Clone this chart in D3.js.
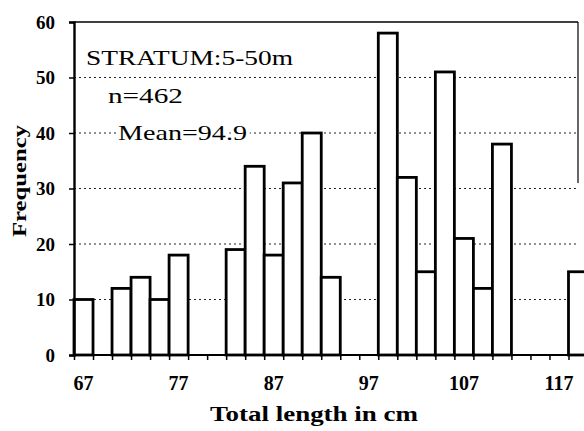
<!DOCTYPE html>
<html>
<head>
<meta charset="utf-8">
<script src="https://cdn.jsdelivr.net/npm/d3@7"></script>
<style>
  body { margin: 0; background: #fff; }
  svg { display: block; }
  text { font-family: "Liberation Serif", "Times New Roman", serif; }
</style>
</head>
<body>
<div id="chart"></div>
<script>
// bin start (cm), each bin 2 cm wide
var binStarts = [66, 70, 72, 74, 76, 82, 84, 86, 88, 90, 92, 98, 100, 102, 104, 106, 108, 110, 118];
var frequencies = [10, 12, 14, 10, 18, 19, 34, 18, 31, 40, 14, 58, 32, 15, 51, 21, 12, 38, 15];
var xTickLabels = [67, 77, 87, 97, 107, 117];
var yTicks = [0, 10, 20, 30, 40, 50, 60];
var gridValues = [10, 20, 30, 40, 50];
var binWidth = 2;

var width = 584, height = 431;

var svg = d3.select("#chart")
  .append("svg")
  .attr("width", width)
  .attr("height", height);

var x = d3.scaleLinear().domain([66, 119]).range([74, 578]);
var y = d3.scaleLinear().domain([0, 60]).range([355, 22]);

// dotted gridlines
svg.selectAll(".grid")
  .data(gridValues)
  .enter()
  .append("line")
  .attr("x1", x(66))
  .attr("x2", x(119))
  .attr("y1", d => y(d))
  .attr("y2", d => y(d))
  .style("stroke", "#222")
  .style("stroke-width", 1)
  .style("stroke-dasharray", "2,3");

// top frame + partial right frame
svg.append("line")
  .attr("x1", x(66)).attr("x2", x(119))
  .attr("y1", y(60)).attr("y2", y(60))
  .style("stroke", "#000").style("stroke-width", 1.6);
svg.append("line")
  .attr("x1", x(119)).attr("x2", x(119))
  .attr("y1", y(60)).attr("y2", y(31))
  .style("stroke", "#000").style("stroke-width", 1.2);

// annotation text (white halo interrupts the gridlines)
var notes = [
  { t: "STRATUM:5-50m", x: 86, y: 65, len: 207 },
  { t: "n=462", x: 108, y: 103, len: 75 },
  { t: "Mean=94.9", x: 118, y: 140, len: 129 }
];
svg.selectAll(".note")
  .data(notes)
  .enter()
  .append("text")
  .attr("x", d => d.x)
  .attr("y", d => d.y)
  .attr("textLength", d => d.len)
  .attr("lengthAdjust", "spacingAndGlyphs")
  .style("font-size", "22px")
  .style("fill", "#000")
  .style("stroke", "#fff")
  .style("stroke-width", 6)
  .style("paint-order", "stroke")
  .text(d => d.t);

// bars
var bars = binStarts.map((b, i) => ({ start: b, value: frequencies[i] }));
svg.selectAll(".bar")
  .data(bars)
  .enter()
  .append("rect")
  .attr("x", d => x(d.start))
  .attr("y", d => y(d.value))
  .attr("width", d => x(d.start + binWidth) - x(d.start))
  .attr("height", d => y(0) - y(d.value))
  .style("fill", "#fff")
  .style("stroke", "#000")
  .style("stroke-width", 2.8);

// x axis
var xAxis = svg.append("g")
  .attr("transform", "translate(0," + y(0) + ")")
  .call(d3.axisBottom(x).tickValues(d3.range(66, 120, 2)).tickSize(5).tickFormat(""));
xAxis.select(".domain").attr("d", "M" + x(66) + ",0H" + width).style("stroke-width", 2);
xAxis.selectAll(".tick line").style("stroke-width", 1.5);

svg.selectAll(".xlab")
  .data(xTickLabels)
  .enter()
  .append("text")
  .attr("x", d => x(d))
  .attr("y", 390)
  .attr("text-anchor", "middle")
  .style("font-size", "20px")
  .style("font-weight", "bold")
  .text(d => d);

// y axis
var yAxis = svg.append("g")
  .attr("transform", "translate(" + x(66) + ",0)")
  .call(d3.axisLeft(y).tickValues(yTicks).tickSize(5).tickPadding(14));
yAxis.select(".domain").style("stroke-width", 2.4);
yAxis.selectAll(".tick line").style("stroke-width", 1.5);
yAxis.selectAll(".tick text")
  .style("font-family", "'Liberation Serif', serif")
  .style("font-size", "19px")
  .style("font-weight", "bold")
  .style("fill", "#000");

// axis titles
svg.append("text")
  .attr("x", 210)
  .attr("y", 421)
  .attr("textLength", 208)
  .attr("lengthAdjust", "spacingAndGlyphs")
  .style("font-size", "20px")
  .style("font-weight", "bold")
  .text("Total length in cm");

svg.append("text")
  .attr("transform", "translate(26,181) rotate(-90)")
  .attr("text-anchor", "middle")
  .attr("textLength", 112)
  .attr("lengthAdjust", "spacingAndGlyphs")
  .style("font-size", "19px")
  .style("font-weight", "bold")
  .text("Frequency");
</script>
</body>
</html>
